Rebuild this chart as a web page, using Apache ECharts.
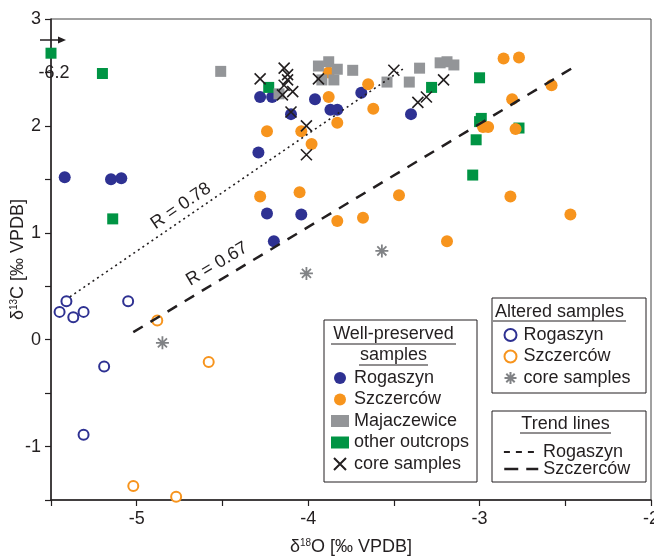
<!DOCTYPE html>
<html>
<head>
<meta charset="utf-8">
<script src="https://cdn.jsdelivr.net/npm/echarts@6/dist/echarts.min.js"></script>
<style>
    html, body { margin: 0; padding: 0; background: #fff; }
    #chart { width: 654px; height: 557px; }
</style>
</head>
<body>
<div id="chart"></div>
<script>
    // well-preserved samples [d18O, d13C]
    const rogaszynWell = [[-5.42, 1.52], [-5.15, 1.50], [-5.09, 1.51], [-4.28, 2.27], [-4.21, 2.27],
        [-4.29, 1.75], [-4.24, 1.18], [-4.20, 0.92], [-4.04, 1.17], [-4.10, 2.11], [-3.96, 2.25],
        [-3.87, 2.15], [-3.83, 2.15], [-3.69, 2.31], [-3.40, 2.11]];
    const szczercowWell = [[-4.24, 1.95], [-4.04, 1.95], [-3.98, 1.83], [-4.28, 1.34], [-4.05, 1.38],
        [-3.88, 2.27], [-3.83, 2.03], [-3.65, 2.39], [-3.62, 2.16], [-3.83, 1.11], [-3.68, 1.14],
        [-3.47, 1.35], [-2.86, 2.63], [-2.77, 2.64], [-2.58, 2.38], [-2.81, 2.25], [-2.98, 1.99],
        [-2.95, 1.99], [-2.79, 1.97], [-2.82, 1.34], [-2.47, 1.17], [-3.19, 0.92], [-3.88, 2.50]];
    const majaczewice = [[-4.51, 2.51], [-4.17, 2.30], [-3.94, 2.56], [-3.88, 2.60], [-3.83, 2.53],
        [-3.92, 2.43], [-3.85, 2.43], [-3.74, 2.52], [-3.54, 2.41], [-3.41, 2.41], [-3.35, 2.54],
        [-3.23, 2.59], [-3.19, 2.60], [-3.15, 2.57]];
    const otherOutcrops = [[-5.50, 2.68], [-5.20, 2.49], [-5.14, 1.13], [-4.23, 2.36], [-3.28, 2.36],
        [-3.00, 2.45], [-2.99, 2.07], [-3.00, 2.04], [-2.77, 1.98], [-3.02, 1.87], [-3.04, 1.54]];
    const coreWell = [[-4.28, 2.44], [-4.14, 2.54], [-4.12, 2.48], [-4.12, 2.43], [-4.14, 2.38],
        [-4.09, 2.32], [-4.15, 2.29], [-4.10, 2.13], [-4.01, 2.00], [-4.01, 1.73], [-3.94, 2.44],
        [-3.50, 2.52], [-3.36, 2.22], [-3.31, 2.27], [-3.21, 2.43]];

    // altered samples
    const rogaszynAltered = [[-5.45, 0.26], [-5.41, 0.36], [-5.37, 0.21], [-5.31, 0.26], [-5.05, 0.36],
        [-5.19, -0.25], [-5.31, -0.89]];
    const szczercowAltered = [[-4.88, 0.18], [-4.58, -0.21], [-5.02, -1.37], [-4.77, -1.47]];
    const coreAltered = [[-4.85, -0.03], [-4.01, 0.62], [-3.57, 0.83]];

    // trend line end points
    const rogaszynTrend = [[-5.39, 0.40], [-3.44, 2.54]];
    const szczercowTrend = [[-5.02, 0.07], [-2.46, 2.54]];

    const xTicks = [-5, -4, -3, -2];
    const yTicks = [-1, 0, 1, 2, 3];

    const ink = '#231f20';
    const font = 'Liberation Sans, Arial, sans-serif';
    const crossPath = 'path://M0,0L10,10M10,0L0,10';
    const starPath = 'path://M5,0L5,10M0,5L10,5M1.5,1.5L8.5,8.5M8.5,1.5L1.5,8.5';

    const myChart = echarts.init(document.getElementById('chart'));

    function scatter(name, data, symbol, size, style) {
        return {
            name: name,
            type: 'scatter',
            clip: false,
            symbol: symbol,
            symbolSize: size,
            itemStyle: Object.assign({ opacity: 1 }, style),
            data: data
        };
    }

    function legendBox(names, left, top, itemWidth, gap, extra) {
        return Object.assign({
            data: names,
            orient: 'vertical',
            left: left,
            top: top,
            padding: 0,
            z: 12,
            itemWidth: itemWidth,
            itemHeight: 12,
            itemGap: gap,
            selectedMode: false,
            formatter: n => n.replace(' (altered)', '').replace(' trend', ''),
            textStyle: {
                fontFamily: font,
                fontSize: 18,
                lineHeight: 18,
                color: ink
            }
        }, extra || {});
    }

    const label = (text, x, y, extra) => Object.assign({
        type: 'text',
        x: x,
        y: y,
        style: {
            text: text,
            fontFamily: font,
            fontSize: 18,
            fill: ink,
            align: 'center',
            verticalAlign: 'middle',
            textAlign: 'center',
            textVerticalAlign: 'middle'
        }
    }, extra || {});

    const hline = (x1, x2, y) => ({
        type: 'line',
        z: 11,
        shape: { x1: x1, y1: y, x2: x2, y2: y },
        style: { stroke: ink, lineWidth: 1 }
    });

    const box = (x, y, w, h) => ({
        type: 'rect',
        shape: { x: x, y: y, width: w, height: h },
        style: { fill: '#fff', stroke: ink, lineWidth: 1 },
        z: 10
    });

    const axisName = {
        rich: {
            t: { fontFamily: font, fontSize: 18, color: ink },
            s: { fontFamily: font, fontSize: 10, color: ink, verticalAlign: 'top', padding: [0, 0, 8, 0] }
        }
    };

    let option = {
        backgroundColor: '#fff',
        animation: false,
        grid: {
            left: 51,
            right: 3,
            top: 19,
            bottom: 57,
            containLabel: false,
            outerBoundsMode: 'none',
            show: true,
            borderColor: '#444',
            borderWidth: 1
        },
        xAxis: {
            type: 'value',
            min: -5.5,
            max: -2,
            interval: 0.5,
            name: '{t|δ}{s|18}{t|O [‰ VPDB]}',
            nameLocation: 'middle',
            nameGap: 38,
            nameMoveOverlap: false,
            nameTextStyle: axisName,
            axisLine: { onZero: false, lineStyle: { color: ink, width: 1.5 } },
            axisTick: { inside: false, length: 6, lineStyle: { color: ink, width: 1.2 } },
            axisLabel: {
                margin: 10,
                fontFamily: font,
                fontSize: 18,
                color: ink,
                formatter: v => xTicks.indexOf(v) >= 0 ? String(v) : ''
            },
            splitLine: { show: false }
        },
        yAxis: {
            type: 'value',
            min: -1.5,
            max: 3,
            interval: 0.5,
            name: '{t|δ}{s|13}{t|C [‰ VPDB]}',
            nameLocation: 'middle',
            nameRotate: 90,
            nameGap: 24,
            nameMoveOverlap: false,
            nameTextStyle: axisName,
            axisLine: { onZero: false, lineStyle: { color: ink, width: 1.5 } },
            axisTick: { inside: false, length: 6, lineStyle: { color: ink, width: 1.2 } },
            axisLabel: {
                margin: 10,
                fontFamily: font,
                fontSize: 18,
                color: ink,
                formatter: v => yTicks.indexOf(v) >= 0 ? String(v) : ''
            },
            splitLine: { show: false }
        },
        legend: [
            legendBox(['Rogaszyn', 'Szczerców', 'Majaczewice', 'other outcrops', 'core samples'], 331, 369, 18, 3.5),
            legendBox(['Rogaszyn (altered)', 'Szczerców (altered)', 'core samples (altered)'], 502, 326, 16, 3.5),
            legendBox(['Rogaszyn trend'], 503, 443, 34, 0, {
                itemStyle: { opacity: 0 },
                lineStyle: { color: ink, type: [6, 6], width: 1.8 }
            }),
            legendBox(['Szczerców trend'], 503, 460, 34, 0, {
                itemStyle: { opacity: 0 },
                lineStyle: { color: ink, type: [14, 8], width: 2.5 }
            })
        ],
        graphic: [
            // off-scale marker
            { type: 'line', shape: { x1: 40, y1: 40, x2: 60, y2: 40 }, style: { stroke: ink, lineWidth: 1.5 } },
            { type: 'polygon', shape: { points: [[58, 36.5], [66, 40], [58, 43.5]] }, style: { fill: ink } },
            label('-6.2', 54, 73),
            label('R = 0.78', 181, 206, { rotation: 34.4 * Math.PI / 180 }),
            label('R = 0.67', 217, 264, { rotation: 31 * Math.PI / 180 }),
            // legend frames
            box(324, 320, 153, 162),
            box(492, 298, 154, 95),
            box(492, 411, 154, 71),
            label('Well-preserved', 393.5, 334, { z: 11 }),
            hline(331, 456, 344),
            label('samples', 393.5, 355, { z: 11 }),
            hline(359, 428, 365),
            label('Altered samples', 559.5, 312, { z: 11 }),
            hline(493, 626, 321),
            label('Trend lines', 565.5, 424, { z: 11 }),
            hline(520, 611, 433)
        ],
        series: [
            {
                name: 'Rogaszyn trend',
                type: 'line',
                symbol: 'none',
                itemStyle: { color: ink, opacity: 0 },
                lineStyle: { color: ink, width: 1.6, type: [2, 3.5] },
                data: rogaszynTrend
            },
            {
                name: 'Szczerców trend',
                type: 'line',
                symbol: 'none',
                itemStyle: { color: ink, opacity: 0 },
                lineStyle: { color: ink, width: 2.5, type: [11, 9] },
                data: szczercowTrend
            },
            scatter('Rogaszyn', rogaszynWell, 'circle', 12, { color: '#2e3192' }),
            scatter('other outcrops', otherOutcrops, 'rect', 11, { color: '#009444' }),
            scatter('Szczerców', szczercowWell, 'circle', 12, { color: '#f7941d' }),
            scatter('Majaczewice', majaczewice, 'rect', 11, { color: '#939598' }),
            scatter('core samples', coreWell, crossPath, 11, { color: 'none', borderColor: ink, borderWidth: 1.6 }),
            scatter('Rogaszyn (altered)', rogaszynAltered, 'circle', 10, { color: '#fff', borderColor: '#2e3192', borderWidth: 2 }),
            scatter('Szczerców (altered)', szczercowAltered, 'circle', 10, { color: '#fff', borderColor: '#f7941d', borderWidth: 2 }),
            scatter('core samples (altered)', coreAltered, starPath, 13, { color: 'none', borderColor: '#808285', borderWidth: 1.8 })
        ]
    };

    myChart.setOption(option);

    window.addEventListener('resize', () => {
        if (myChart) {
            myChart.resize();
        }
    });
</script>
</body>
</html>
